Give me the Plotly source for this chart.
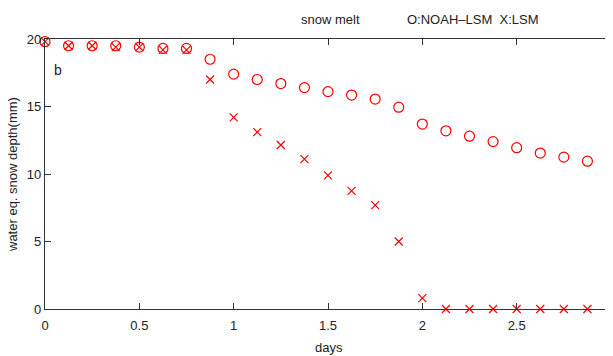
import plotly.graph_objects as go

days = [i * 0.125 for i in range(25)]
noah_lsm = [19.8, 19.5, 19.5, 19.5, 19.4, 19.3, 19.3, 18.5, 17.4, 17.0, 16.7, 16.4,
            16.1, 15.85, 15.55, 14.95, 13.7, 13.2, 12.8, 12.4, 11.95, 11.55, 11.25, 10.95, 10.65]
lsm = [19.8, 19.5, 19.5, 19.4, 19.4, 19.2, 19.2, 17.0, 14.2, 13.1, 12.15, 11.1,
       9.9, 8.75, 7.7, 5.0, 0.8, 0, 0, 0, 0, 0, 0, 0, 0]
x_ticks = [0, 0.5, 1, 1.5, 2, 2.5, 3]
x_tick_labels = ["0", "0.5", "1", "1.5", "2", "2.5", "3"]
y_ticks = [0, 5, 10, 15, 20]
y_tick_labels = ["0", "5", "10", "15", "20"]

FONT = "Liberation Sans Narrow, Liberation Sans, Arial, sans-serif"
OFF = 8  # page body margin offset
W, H = 613, 356
L, T = 45 - OFF, 39 - OFF
PW, PH = 566, 270
R, B = W - L - PW, H - T - PH


def px(xp):
    return (xp - OFF - L) / PW


def py(yp):
    return (T + PH - (yp - OFF)) / PH


fig = go.Figure()
fig.add_trace(go.Scatter(x=days, y=noah_lsm, mode="markers", name="NOAH-LSM",
                         marker=dict(symbol="circle-open", size=10, color="#ff0000",
                                     line=dict(width=1.2, color="#ff0000")),
                         cliponaxis=False))
fig.add_trace(go.Scatter(x=days, y=lsm, mode="markers", name="LSM",
                         marker=dict(symbol="x-thin-open", size=8, color="#ff0000",
                                     line=dict(width=1.2, color="#ff0000")),
                         cliponaxis=False))

axis_common = dict(showgrid=False, zeroline=False, showline=True, linecolor="#333333",
                   linewidth=1.3, mirror="ticks", ticks="inside", ticklen=6,
                   tickcolor="#333333", automargin=False, ticklabeloverflow="allow",
                   tickfont=dict(family=FONT, size=13, color="#222222"))

txt = dict(family=FONT, size=13, color="#222222")
ann = dict(xref="paper", yref="paper", showarrow=False, xanchor="center",
           yanchor="middle", font=txt)
fig.update_layout(
    width=W, height=H,
    margin=dict(l=L, r=R, t=T, b=B, autoexpand=False),
    paper_bgcolor="white", plot_bgcolor="white",
    showlegend=False,
    font=txt,
    xaxis=dict(range=[0, 3], tickvals=x_ticks, ticktext=x_tick_labels,
               ticklabelstandoff=4, **axis_common),
    yaxis=dict(range=[0, 20], tickvals=y_ticks, ticktext=y_tick_labels, **axis_common),
    annotations=[
        dict(ann, x=px(330), y=py(20), text="snow melt"),
        dict(ann, x=px(472), y=py(20), text="O:NOAH\u2013LSM  X:LSM"),
        dict(ann, x=px(58), y=py(70), text="b",
             font=dict(family=FONT, size=14, color="#222222")),
        dict(ann, x=px(329), y=py(347), text="days"),
        dict(ann, x=px(12), y=py(175), text="water eq. snow depth(mm)", textangle=-90),
    ],
)

fig.write_html("out.html")
